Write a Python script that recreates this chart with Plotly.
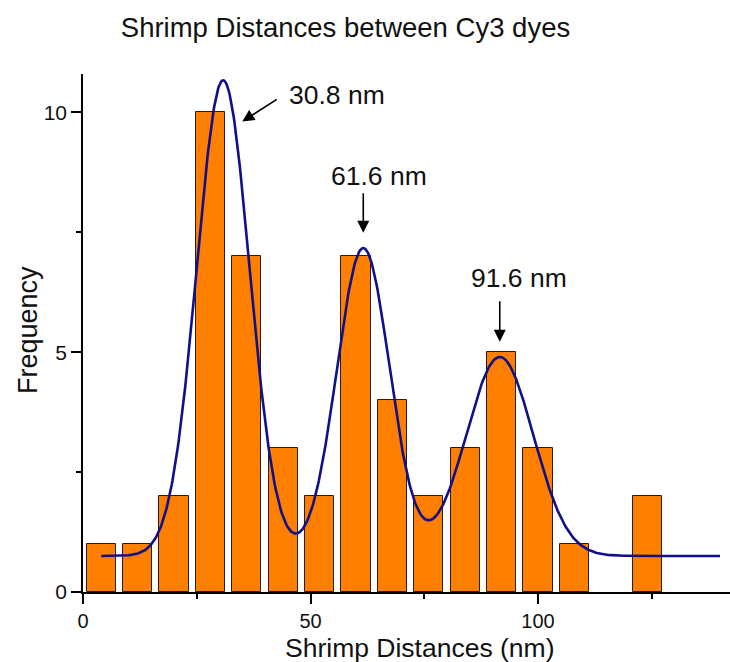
import numpy as np
import plotly.graph_objects as go

# Histogram of measured distances (8 nm bins)
bin_centers = [4, 12, 20, 28, 36, 44, 52, 60, 68, 76, 84, 92, 100, 108, 116, 124]
counts = [1, 1, 2, 10, 7, 3, 2, 7, 4, 2, 3, 5, 3, 1, 0, 2]

# Multi-peak Gaussian fit parameters
peak_centers = [30.8, 61.6, 91.6]
peak_heights = [9.92, 6.42, 4.15]
peak_sigmas = [5.8, 5.8, 7.4]
fit_baseline = 0.75
fit_span = [4, 140]

peak_labels = ["30.8 nm", "61.6 nm", "91.6 nm"]

x_ticks = [0, 50, 100]
y_ticks = [0, 5, 10]

FONT = "Arial, Liberation Sans, sans-serif"
TEXT = "#111"

x_fit = np.linspace(fit_span[0], fit_span[1], 800)
y_fit = np.full_like(x_fit, fit_baseline)
for c, h, s in zip(peak_centers, peak_heights, peak_sigmas):
    y_fit += h * np.exp(-((x_fit - c) ** 2) / (2 * s ** 2))

# empty bins draw nothing
bar_x = [x for x, n in zip(bin_centers, counts) if n > 0]
bar_y = [n for n in counts if n > 0]

fig = go.Figure()
fig.add_trace(go.Bar(
    x=bar_x, y=bar_y, width=6.4,
    marker=dict(color="#FF8000", line=dict(color="#2b1d10", width=1)),
    showlegend=False,
))
fig.add_trace(go.Scatter(
    x=x_fit, y=y_fit, mode="lines",
    line=dict(color="#10108a", width=2.6),
    showlegend=False,
))

annotations = []
# arrow heads (x, y) with tail offsets in pixels, and label positions
arrow_specs = [
    dict(x=35.0, y=9.81, ax=36, ay=-23),
    dict(x=peak_centers[1], y=7.49, ax=0, ay=-41),
    dict(x=peak_centers[2], y=5.22, ax=0, ay=-42),
]
label_pos = [(55.8, 10.36), (65.1, 8.68), (95.8, 6.55)]
for spec, (lx, ly), txt in zip(arrow_specs, label_pos, peak_labels):
    annotations.append(dict(
        x=spec["x"], y=spec["y"], xref="x", yref="y",
        ax=spec["ax"], ay=spec["ay"], text="", showarrow=True,
        arrowhead=2, arrowsize=1.5, arrowwidth=1.6, arrowcolor="black",
    ))
    annotations.append(dict(
        x=lx, y=ly, xref="x", yref="y", text=txt, showarrow=False,
        font=dict(family=FONT, size=26.5, color=TEXT),
        xanchor="center", yanchor="middle",
    ))

# axis titles placed as free text
plot_l, plot_r, plot_t, plot_b = 83, 730, 74, 592
pw, ph = plot_r - plot_l, plot_b - plot_t
annotations.append(dict(
    text="Shrimp Distances (nm)", xref="paper", yref="paper",
    x=(420 - plot_l) / pw, y=(plot_b - 648) / ph,
    xanchor="center", yanchor="middle", showarrow=False, borderpad=0,
    font=dict(family=FONT, size=26.5, color=TEXT),
))
annotations.append(dict(
    text="Frequency", xref="paper", yref="paper", textangle=-90,
    x=(28 - plot_l) / pw, y=(plot_b - 330) / ph,
    xanchor="center", yanchor="middle", showarrow=False, borderpad=0,
    font=dict(family=FONT, size=27, color=TEXT),
))

fig.update_layout(
    width=730, height=662,
    margin=dict(l=plot_l, r=730 - plot_r, t=plot_t, b=662 - plot_b),
    paper_bgcolor="white", plot_bgcolor="white",
    bargap=0,
    title=dict(
        text="Shrimp Distances between Cy3 dyes",
        font=dict(family=FONT, size=27.5, color=TEXT),
        x=345.5 / 730, xref="container", xanchor="center",
        y=1 - 27 / 662, yref="container", yanchor="middle",
    ),
    annotations=annotations,
    xaxis=dict(
        range=[0, 142.2], showgrid=False, zeroline=False,
        showline=True, linecolor="black", linewidth=1.6,
        tickmode="array", tickvals=x_ticks, ticktext=[str(v) for v in x_ticks],
        ticks="outside", ticklen=10, tickwidth=1.6, tickcolor="black",
        minor=dict(tickvals=[25, 75, 125], ticks="outside", ticklen=5,
                   tickwidth=1.6, tickcolor="black"),
        tickfont=dict(family=FONT, size=20, color=TEXT),
    ),
    yaxis=dict(
        range=[0, 10.8], showgrid=False, zeroline=False,
        showline=True, linecolor="black", linewidth=1.6,
        tickmode="array", tickvals=y_ticks, ticktext=[str(v) for v in y_ticks],
        ticks="outside", ticklen=10, tickwidth=1.6, tickcolor="black",
        minor=dict(tickvals=[2.5, 7.5], ticks="outside", ticklen=5,
                   tickwidth=1.6, tickcolor="black"),
        tickfont=dict(family=FONT, size=21, color=TEXT),
    ),
)

fig.write_html("out.html")
